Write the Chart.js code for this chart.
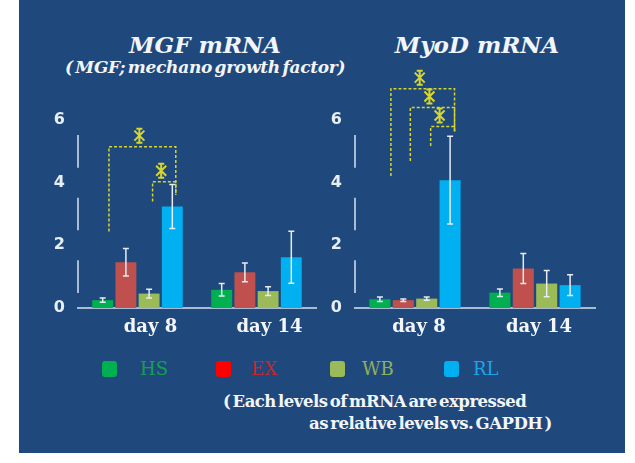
<!DOCTYPE html>
<html>
<head>
<meta charset="utf-8">
<script src="https://cdn.jsdelivr.net/npm/chart.js@4.4.1/dist/chart.umd.min.js"></script>
<style>
  html, body { margin: 0; padding: 0; background: #fff; width: 635px; height: 463px; overflow: hidden; }
  #panel { position: absolute; left: 19px; top: 0; width: 606px; height: 453px; background: #1f497d; }
  .t { position: absolute; color: #f2f5f9; font-family: 'DejaVu Serif', serif; white-space: nowrap; }
  .title { font-size: 23px; line-height: 23px; font-weight: bold; font-style: italic; text-align: center; }
  .sub { font-size: 17px; line-height: 17px; font-weight: bold; font-style: italic; word-spacing: -3px; letter-spacing: -0.3px; }
  .note { font-size: 16.5px; line-height: 16.5px; font-weight: bold; word-spacing: -3px; letter-spacing: -0.5px; }
  .mk { position: absolute; width: 15px; height: 16px; border-radius: 3px; }
  .lg { position: absolute; font-family: 'DejaVu Serif', serif; font-size: 18px; line-height: 18px; }
  canvas { position: absolute; }
</style>
</head>
<body>
<div id="panel"></div>
<div class="t title" style="left:105px; width:200px; top:33px;">MGF mRNA</div>
<div class="t sub" style="left:65px; top:59px;">( MGF; mechano growth factor)</div>
<div class="t title" style="left:377px; width:200px; top:33px;">MyoD mRNA</div>
<canvas id="mgfChart" width="300" height="288" style="left:20px; top:60px;"></canvas>
<canvas id="myodChart" width="300" height="288" style="left:300px; top:60px;"></canvas>
<div id="legend"></div>
<div class="t note" style="left:223px; top:394px;">( Each levels of mRNA are expressed</div>
<div class="t note" style="left:309px; top:416px;">as relative levels vs. GAPDH )</div>
<script>
// categories and groups
const days = ['day 8', 'day 14'];
const groups = ['HS', 'EX', 'WB', 'RL'];

// MGF mRNA: mean per group [day 8, day 14] and error (+/-)
const mgfHS = [0.25, 0.58], mgfHSErr = [0.07, 0.20];
const mgfEX = [1.46, 1.14], mgfEXErr = [0.44, 0.30];
const mgfWB = [0.46, 0.54], mgfWBErr = [0.14, 0.14];
const mgfRL = [3.24, 1.62], mgfRLErr = [0.70, 0.83];

// MyoD mRNA
const myoHS = [0.28, 0.49], myoHSErr = [0.07, 0.12];
const myoEX = [0.25, 1.26], myoEXErr = [0.04, 0.48];
const myoWB = [0.30, 0.78], myoWBErr = [0.05, 0.42];
const myoRL = [4.08, 0.73], myoRLErr = [1.40, 0.33];

// significance brackets on day 8: [from bar, to bar, top, from end, to end]
const mgfSig = [[0.27, 3.15, 5.15, 2.44, 3.61], [2.15, 3.15, 4.03, 3.40, 3.61]];
const myoSig = [[0.47, 3.19, 7.00, 4.21, 5.63], [1.30, 3.19, 6.40, 4.69, 5.63], [2.17, 3.19, 5.79, 5.17, 5.63]];

const yTicks = [0, 2, 4, 6];

const barColors = ['#00b050', '#c0504d', '#9bbb59', '#00b0f0'];
const markColors = ['#00b050', '#ff0000', '#9bbb59', '#00b0f0'];
const textColors = ['#14a04e', '#c0282d', '#8fb05a', '#1ca4e6'];
const YELLOW = '#d8d62c';
const AXIS = '#a9bcd4';

// legend
const legend = document.getElementById('legend');
groups.forEach((g, i) => {
  legend.insertAdjacentHTML('beforeend',
    `<div class="mk" style="left:${102 + i * 114}px; top:361px; background:${markColors[i]}"></div>` +
    `<div class="lg" style="left:${140 + i * 111}px; top:360px; color:${textColors[i]}">${g}</div>`);
});

const errorBars = {
  id: 'errorBars',
  afterDatasetsDraw(chart, args, opts) {
    const { ctx, scales: { y } } = chart;
    ctx.save();
    ctx.strokeStyle = '#e6ecf3';
    ctx.lineWidth = 1.5;
    chart.data.datasets.forEach((ds, i) => {
      chart.getDatasetMeta(i).data.forEach((bar, j) => {
        const v = ds.data[j], e = opts.err[i][j];
        const t = y.getPixelForValue(v + e), b = y.getPixelForValue(v - e);
        ctx.beginPath();
        ctx.moveTo(bar.x, t); ctx.lineTo(bar.x, b);
        ctx.moveTo(bar.x - 3, t); ctx.lineTo(bar.x + 3, t);
        ctx.moveTo(bar.x - 3, b); ctx.lineTo(bar.x + 3, b);
        ctx.stroke();
      });
    });
    ctx.restore();
  }
};

function star(ctx, cx, cy) {
  ctx.beginPath();
  ctx.moveTo(cx, cy - 7); ctx.lineTo(cx, cy + 7);
  ctx.moveTo(cx - 5, cy - 5); ctx.lineTo(cx + 5, cy + 5);
  ctx.moveTo(cx + 5, cy - 5); ctx.lineTo(cx - 5, cy + 5);
  ctx.moveTo(cx - 3, cy - 7); ctx.lineTo(cx + 3, cy - 7);
  ctx.moveTo(cx - 3, cy + 7); ctx.lineTo(cx + 3, cy + 7);
  ctx.stroke();
}

const sigBrackets = {
  id: 'sigBrackets',
  afterDraw(chart, args, opts) {
    const { ctx, scales: { y } } = chart;
    const b0 = chart.getDatasetMeta(0).data[0].x;
    const slot = chart.getDatasetMeta(1).data[0].x - b0;
    const px = p => b0 + p * slot;
    ctx.save();
    ctx.strokeStyle = YELLOW;
    ctx.lineWidth = 1.5;
    opts.list.forEach(([from, to, top, fromEnd, toEnd]) => {
      const xl = px(from), xr = px(to), yt = y.getPixelForValue(top);
      ctx.setLineDash([3, 2]);
      ctx.beginPath();
      ctx.moveTo(xl, y.getPixelForValue(fromEnd));
      ctx.lineTo(xl, yt);
      ctx.lineTo(xr, yt);
      ctx.lineTo(xr, y.getPixelForValue(toEnd));
      ctx.stroke();
      ctx.setLineDash([]);
      ctx.lineWidth = 2;
      star(ctx, (xl + xr) / 2 - 3, yt - 11);
      ctx.lineWidth = 1.5;
    });
    ctx.restore();
  }
};

// broken y axis: one segment between each pair of tick values
const axisSegments = {
  id: 'axisSegments',
  afterDraw(chart) {
    const { ctx, chartArea, scales: { y } } = chart;
    ctx.save();
    ctx.strokeStyle = AXIS;
    ctx.lineWidth = 2;
    for (let k = 0; k < yTicks.length - 1; k++) {
      const a = y.getPixelForValue(yTicks[k]) - 15, b = y.getPixelForValue(yTicks[k + 1]) + 15;
      ctx.beginPath();
      ctx.moveTo(chartArea.left, a); ctx.lineTo(chartArea.left, b);
      ctx.stroke();
    }
    ctx.restore();
  }
};

function makeChart(id, series, errs, sig, axisWidth, padRight, labelShift) {
  return new Chart(document.getElementById(id), {
    type: 'bar',
    data: {
      labels: days,
      datasets: groups.map((g, i) => ({
        label: g, data: series[i], backgroundColor: barColors[i],
        categoryPercentage: 0.78, barPercentage: 0.9,
      })),
    },
    options: {
      responsive: false, animation: false,
      layout: { padding: { top: 60, right: padRight, left: 0, bottom: 0 } },
      plugins: {
        legend: { display: false }, tooltip: { enabled: false },
        errorBars: { err: errs }, sigBrackets: { list: sig },
      },
      scales: {
        x: {
          grid: { display: false, drawTicks: false },
          border: { color: AXIS, width: 2 },
          ticks: { color: '#f4f6f9', padding: 9, labelOffset: labelShift,
                   font: { family: 'DejaVu Serif', size: 18, weight: 'bold' } },
          afterFit: s => { s.height = 40; },
        },
        y: {
          min: 0, max: 6,
          grid: { display: false, drawTicks: false },
          border: { display: false },
          afterBuildTicks: s => { s.ticks = yTicks.map(v => ({ value: v })); },
          ticks: { color: '#e8eef5', padding: 13,
                   font: { family: 'DejaVu Sans', size: 16, weight: 'bold' } },
          afterFit: s => { s.width = axisWidth; },
        },
      },
    },
    plugins: [errorBars, sigBrackets, axisSegments],
  });
}

makeChart('mgfChart', [mgfHS, mgfEX, mgfWB, mgfRL], [mgfHSErr, mgfEXErr, mgfWBErr, mgfRLErr], mgfSig, 58, 4, 13);
makeChart('myodChart', [myoHS, myoEX, myoWB, myoRL], [myoHSErr, myoEXErr, myoWBErr, myoRLErr], myoSig, 55, 5, 4);
</script>
</body>
</html>
